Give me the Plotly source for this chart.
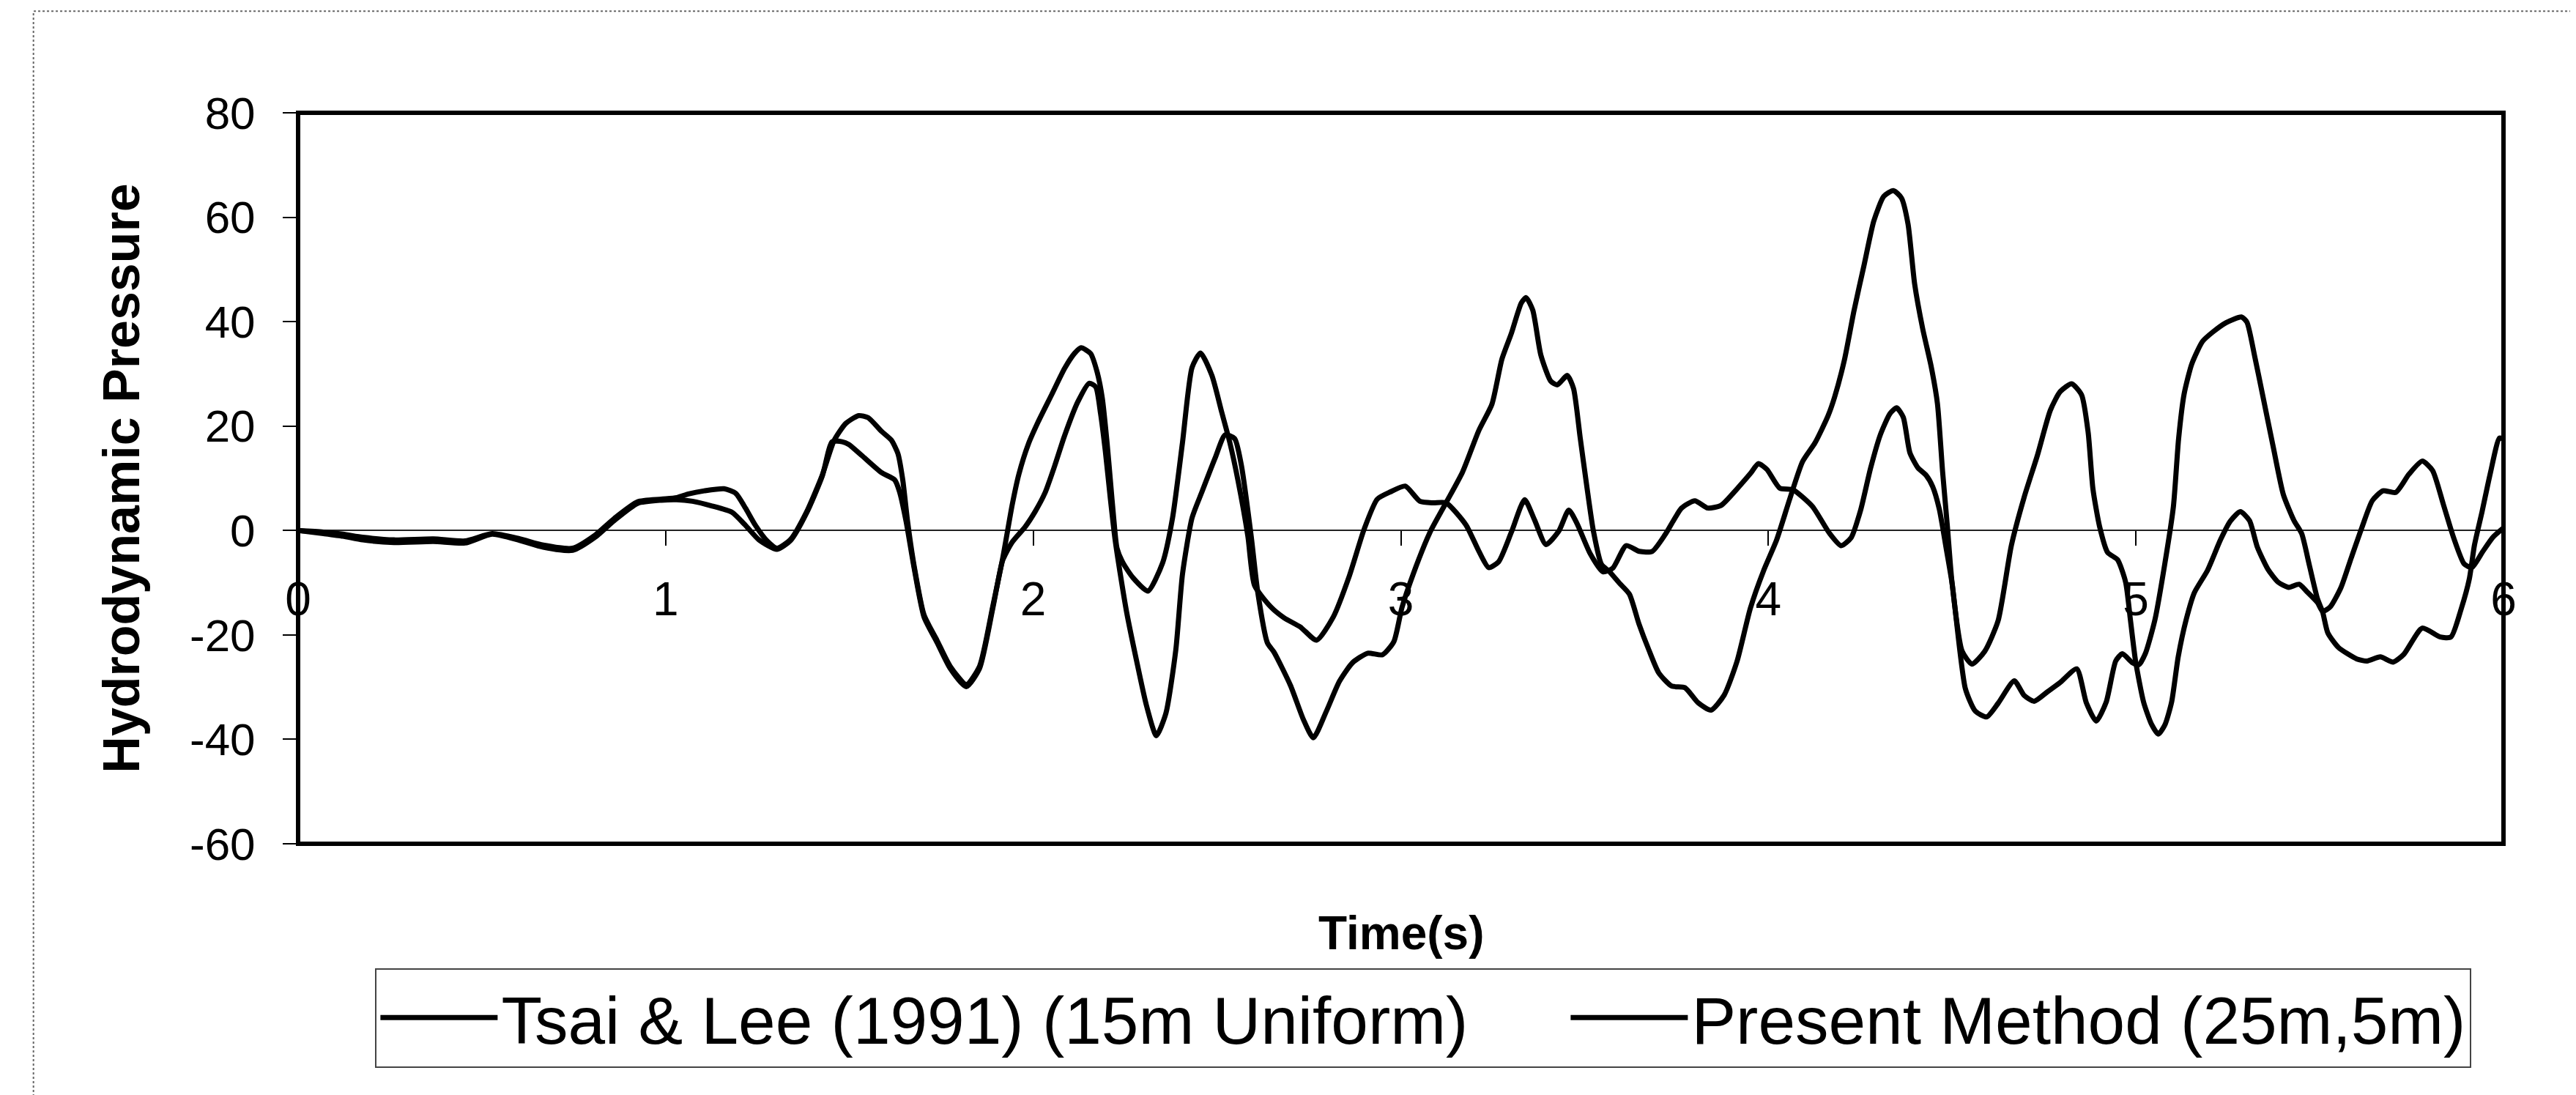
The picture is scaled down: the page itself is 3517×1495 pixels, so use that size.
import plotly.graph_objects as go

## DATA ##
tsai_time = [
    0, 0.069, 0.122, 0.176, 0.261, 0.368, 0.454, 0.528, 0.603, 0.667, 0.747, 0.806, 0.86, 0.924, 0.988, 1.03,
    1.062, 1.105, 1.159, 1.191, 1.217, 1.244, 1.276, 1.303, 1.34, 1.383, 1.426, 1.458, 1.49, 1.525, 1.551,
    1.587, 1.614, 1.632, 1.645, 1.658, 1.676, 1.703, 1.738, 1.774, 1.818, 1.854, 1.89, 1.917, 1.943, 1.961,
    1.987, 2.014, 2.05, 2.085, 2.112, 2.13, 2.156, 2.174, 2.188, 2.201, 2.21, 2.219, 2.228, 2.245, 2.272,
    2.312, 2.352, 2.379, 2.406, 2.432, 2.455, 2.486, 2.513, 2.535, 2.557, 2.584, 2.602, 2.646, 2.682, 2.727,
    2.771, 2.816, 2.86, 2.9, 2.936, 2.972, 3.012, 3.052, 3.088, 3.123, 3.177, 3.212, 3.239, 3.266, 3.301,
    3.337, 3.364, 3.395, 3.43, 3.457, 3.479, 3.515, 3.55, 3.577, 3.613, 3.649, 3.684, 3.72, 3.764, 3.8,
    3.835, 3.871, 3.915, 3.951, 3.973, 3.996, 4.031, 4.067, 4.12, 4.165, 4.198, 4.225, 4.251, 4.278, 4.305,
    4.331, 4.349, 4.367, 4.385, 4.407, 4.429, 4.447, 4.465, 4.483, 4.5, 4.536, 4.563, 4.594, 4.625, 4.669,
    4.696, 4.723, 4.759, 4.794, 4.839, 4.865, 4.892, 4.919, 4.945, 4.963, 4.99, 5.008, 5.026, 5.052, 5.079,
    5.102, 5.116, 5.131, 5.152, 5.181, 5.209, 5.245, 5.287, 5.302, 5.323, 5.344, 5.373, 5.401, 5.43, 5.451,
    5.472, 5.494, 5.508, 5.522, 5.551, 5.601, 5.629, 5.665, 5.7, 5.729, 5.779, 5.828, 5.857, 5.885, 5.907,
    5.921, 5.942, 5.964, 5.989, 6.0,
]
tsai_pressure = [
    0, -0.3, -0.7, -1.3, -1.8, -1.6, -2.0, -0.6, -1.6, -2.8, -3.4, -1.0, 2.3, 5.5, 6.0, 6.3,
    7.0, 7.6, 8.0, 7.1, 4.3, 1.0, -2.0, -3.4, -1.7, 3.5, 10.6, 17.2, 20.5, 22.0, 21.6,
    19.0, 17.3, 14.7, 9.7, 1.8, -6.8, -16.2, -21.0, -26.0, -29.5, -26.0, -14.5, -5.3, 5.0, 10.8,
    16.6, 20.9, 26.0, 31.0, 33.9, 35.0, 33.9, 30.3, 25.3, 16.7, 9.5, 2.3, -3.4, -6.3, -9.1,
    -11.6, -6.2, 2.4, 16.8, 31.2, 34.0, 29.7, 22.6, 16.8, 9.6, -1.1, -10.5, -14.6, -16.7, -18.5,
    -21.0, -16.6, -8.7, 0.2, 6.0, 7.4, 8.5, 5.6, 5.3, 5.3, 1.1, -3.9, -7.1, -6.0, -0.3,
    5.9, 2.0, -2.7, -0.1, 3.9, 1.4, -4.4, -7.9, -7.2, -2.9, -4.0, -4.0, -0.7, 4.3, 5.7,
    4.3, 4.8, 8.0, 10.9, 12.8, 11.7, 8.1, 7.8, 4.6, -0.4, -2.9, -1.4, 3.9, 11.9, 18.4,
    22.4, 23.5, 21.7, 14.9, 12.0, 10.6, 8.4, 4.1, -3.1, -10.2, -30.3, -34.6, -35.7, -33.1, -28.8,
    -31.6, -32.7, -30.9, -29.1, -26.5, -33.0, -36.5, -32.9, -25.0, -23.6, -25.3, -25.7, -23.5, -17.0, -6.2,
    4.6, 17.5, 26.1, 31.9, 36.2, 38.0, 39.8, 40.9, 39.9, 33.4, 26.2, 16.2, 6.9, 1.9, -0.6,
    -6.7, -13.1, -15.6, -19.6, -22.4, -24.6, -25.0, -24.2, -25.2, -23.7, -18.7, -20.4, -20.4, -15.0, -9.3,
    -2.8, 3.7, 10.9, 17.7, 17.5,
]

present_time = [
    0, 0.069, 0.122, 0.176, 0.261, 0.368, 0.454, 0.528, 0.603, 0.667, 0.747, 0.806, 0.86, 0.924, 0.988, 1.03,
    1.073, 1.126, 1.18, 1.217, 1.254, 1.303, 1.34, 1.383, 1.426, 1.453, 1.48, 1.498, 1.533, 1.587, 1.623,
    1.636, 1.654, 1.676, 1.703, 1.738, 1.774, 1.818, 1.854, 1.89, 1.917, 1.943, 1.978, 2.005, 2.032, 2.058,
    2.085, 2.121, 2.152, 2.17, 2.183, 2.196, 2.21, 2.223, 2.237, 2.254, 2.281, 2.308, 2.335, 2.361, 2.388,
    2.406, 2.432, 2.459, 2.495, 2.522, 2.548, 2.566, 2.593, 2.611, 2.637, 2.655, 2.7, 2.735, 2.762, 2.797,
    2.833, 2.869, 2.91, 2.95, 2.981, 3.003, 3.034, 3.079, 3.123, 3.168, 3.212, 3.248, 3.275, 3.301, 3.328,
    3.341, 3.359, 3.381, 3.408, 3.426, 3.453, 3.47, 3.488, 3.506, 3.524, 3.546, 3.568, 3.595, 3.622, 3.648,
    3.675, 3.702, 3.737, 3.773, 3.809, 3.844, 3.88, 3.915, 3.951, 3.987, 4.022, 4.058, 4.093, 4.127, 4.162,
    4.18, 4.207, 4.233, 4.26, 4.287, 4.314, 4.34, 4.362, 4.38, 4.398, 4.42, 4.443, 4.46, 4.474, 4.487,
    4.5, 4.527, 4.554, 4.589, 4.625, 4.661, 4.696, 4.732, 4.767, 4.794, 4.825, 4.852, 4.87, 4.883, 4.901,
    4.923, 4.95, 4.972, 4.985, 4.999, 5.021, 5.043, 5.061, 5.079, 5.097, 5.115, 5.137, 5.159, 5.195, 5.23,
    5.257, 5.284, 5.309, 5.33, 5.359, 5.387, 5.416, 5.444, 5.465, 5.494, 5.508, 5.529, 5.558, 5.586, 5.615,
    5.643, 5.672, 5.707, 5.743, 5.779, 5.807, 5.836, 5.864, 5.893, 5.914, 5.942, 5.971, 6.0,
]
present_pressure = [
    0, -0.6, -1.1, -1.8, -2.3, -2.1, -2.4, -0.7, -1.9, -3.2, -3.8, -1.4, 1.9, 5.2, 5.8, 5.9,
    5.6, 4.7, 3.5, 1.0, -1.8, -3.6, -1.9, 3.3, 10.4, 17.0, 17.0, 16.5, 14.4, 11.1, 9.7,
    7.5, 1.8, -7.2, -16.6, -21.4, -26.4, -29.9, -26.4, -14.9, -5.7, -2.2, 0.7, 3.6, 7.2, 12.3,
    18.1, 24.6, 28.2, 27.5, 22.5, 15.3, 6.0, -1.9, -8.4, -15.6, -24.9, -33.5, -39.3, -35.0, -22.8,
    -8.4, 2.4, 7.4, 13.9, 18.3, 17.6, 12.6, -1.1, -11.9, -21.5, -23.3, -29.7, -36.2, -39.7, -34.7,
    -28.9, -25.3, -23.5, -23.8, -21.3, -14.8, -8.3, -0.4, 5.3, 11.2, 19.1, 24.2, 32.8, 37.8, 43.6,
    44.6, 42.2, 33.6, 28.6, 27.9, 29.7, 27.2, 17.8, 8.5, -0.1, -6.5, -7.9, -10.1, -12.2, -17.9,
    -22.9, -27.3, -29.8, -30.1, -33.0, -34.4, -31.5, -25.0, -14.9, -7.7, -1.9, 6.0, 13.2, 16.8, 21.9,
    25.5, 32.7, 42.1, 50.7, 59.3, 64.0, 65.1, 63.7, 58.7, 47.2, 38.6, 31.4, 24.3, 11.3, 0.8,
    -10.2, -23.1, -25.6, -23.1, -17.3, -2.9, 6.4, 14.4, 23.0, 26.6, 28.1, 26.0, 18.8, 8.0, 0.8,
    -4.2, -5.6, -9.9, -17.1, -25.0, -32.9, -37.2, -39.0, -37.2, -32.9, -24.2, -17.0, -11.9, -7.6, -1.8,
    1.8, 3.6, 1.9, -3.1, -7.4, -9.9, -10.9, -10.3, -11.7, -13.8, -15.5, -14.6, -10.9, -5.2, 0.6,
    5.7, 7.6, 7.3, 10.8, 13.3, 11.5, 5.1, -1.3, -6.4, -7.1, -4.2, -1.3, 0.5,
]

series_names = ["Tsai & Lee (1991) (15m Uniform)", "Present Method (25m,5m)"]
y_ticks = [-60, -40, -20, 0, 20, 40, 60, 80]
x_ticks = [0, 1, 2, 3, 4, 5, 6]

## STYLE ##
FONT = "Liberation Sans, Arial, sans-serif"
Y_MIN, Y_MAX = -60, 80
legend_widths = [1450, None]   # first entry padded to leave the gap seen between the two keys

fig = go.Figure()
for name, t, p, lw in ((series_names[0], tsai_time, tsai_pressure, legend_widths[0]),
                       (series_names[1], present_time, present_pressure, legend_widths[1])):
    fig.add_trace(go.Scatter(
        x=t, y=p,
        mode='lines',
        name=name,
        legendwidth=lw,
        line=dict(color='black', width=7, shape='spline', smoothing=0.6),
    ))

fig.update_layout(
    width=3517,
    height=1495,
    margin=dict(l=399, r=107, t=146, b=351),
    plot_bgcolor='white',
    paper_bgcolor='white',
    font=dict(family=FONT, color='black', size=62),
    xaxis=dict(
        range=[0, 6],
        tickmode='array',
        tickvals=x_ticks,
        ticktext=[str(v) for v in x_ticks],
        anchor='free',
        position=(0 - Y_MIN) / (Y_MAX - Y_MIN),
        showline=False,
        ticks='outside',
        ticklen=20,
        tickwidth=2,
        tickcolor='black',
        tickfont=dict(size=64),
        ticklabelstandoff=18,
        showgrid=False,
        zeroline=False,
    ),
    yaxis=dict(
        range=[Y_MIN, Y_MAX],
        tickmode='array',
        tickvals=y_ticks,
        ticktext=[str(v) for v in y_ticks],   # plain hyphen, as in the original
        showline=False,
        ticks='outside',
        ticklen=20,
        tickwidth=2,
        tickcolor='black',
        tickfont=dict(size=62),
        ticklabelstandoff=25,
        showgrid=False,
        zeroline=True,
        zerolinecolor='#222',
        zerolinewidth=2,
        title=dict(text="<b>Hydrodynamic Pressure</b>", font=dict(size=70), standoff=45),
    ),
    legend=dict(
        orientation='h',
        x=0.035, xanchor='left',
        y=-0.17, yanchor='top',
        font=dict(size=91),
        bordercolor='#444',
        borderwidth=2,
        itemwidth=160,
        bgcolor='white',
    ),
    showlegend=True,
)

# plot frame
fig.add_shape(type='rect', xref='paper', yref='paper', x0=0, x1=1, y0=0, y1=1,
              line=dict(color='black', width=6), layer='above')
# chart area frame (dotted in the scan)
fig.add_shape(type='rect', xref='paper', yref='paper', x0=-0.12, x1=1.033, y0=-0.36, y1=1.139,
              line=dict(color='#666', width=2, dash='dot'), layer='below')

fig.add_annotation(
    text="<b>Time(s)</b>", xref='paper', yref='paper', x=0.5, y=-0.122,
    showarrow=False, font=dict(size=64), xanchor='center', yanchor='middle',
)

fig.write_html("out.html")
